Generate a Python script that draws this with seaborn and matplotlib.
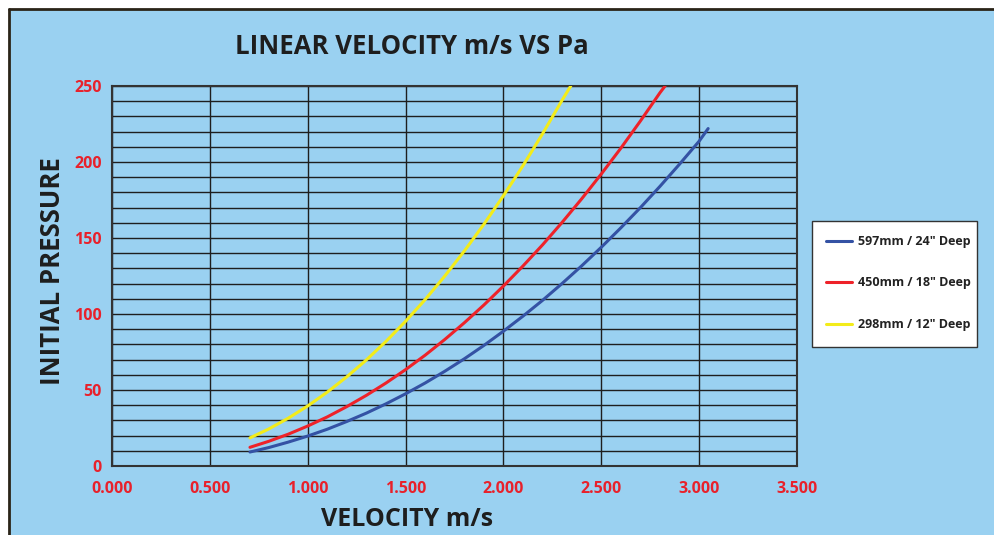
import pandas as pd
import matplotlib
matplotlib.use("Agg")
import matplotlib.pyplot as plt
import seaborn as sns
from matplotlib.lines import Line2D
from matplotlib.patches import Rectangle

# values
series_names = ['597mm / 24" Deep', '450mm / 18" Deep', '298mm / 12" Deep']

vel_597 = [0.705, 0.8, 0.9, 1.0, 1.1, 1.2, 1.3, 1.4, 1.5, 1.6, 1.7, 1.8, 1.9, 2.0,
           2.1, 2.2, 2.3, 2.4, 2.5, 2.6, 2.7, 2.8, 2.9, 3.0, 3.046]
pa_597 = [9.2, 12.1, 15.7, 19.7, 24.2, 29.3, 34.8, 40.9, 47.5, 54.6, 62.3, 70.5, 79.3, 88.7,
          98.6, 109.0, 120.1, 131.7, 143.9, 156.7, 170.0, 184.0, 198.6, 213.7, 222.0]

vel_450 = [0.705, 0.8, 0.9, 1.0, 1.1, 1.2, 1.3, 1.4, 1.5, 1.6, 1.7, 1.8, 1.9, 2.0,
           2.1, 2.2, 2.3, 2.4, 2.5, 2.6, 2.7, 2.8, 2.826]
pa_450 = [12.3, 16.2, 20.9, 26.3, 32.3, 39.1, 46.5, 54.6, 63.4, 72.9, 83.2, 94.2, 105.9, 118.4,
          131.6, 145.5, 160.3, 175.8, 192.1, 209.1, 227.0, 245.6, 250.0]

vel_298 = [0.705, 0.8, 0.9, 1.0, 1.1, 1.2, 1.3, 1.4, 1.5, 1.6, 1.7, 1.8, 1.9, 2.0,
           2.1, 2.2, 2.3, 2.344]
pa_298 = [18.5, 24.3, 31.4, 39.5, 48.6, 58.7, 69.8, 82.0, 95.2, 109.5, 124.9, 141.4, 159.0, 177.8,
          197.6, 218.6, 240.7, 250.0]

x_ticks = [0.0, 0.5, 1.0, 1.5, 2.0, 2.5, 3.0, 3.5]
y_ticks = [0, 50, 100, 150, 200, 250]

colors = ['#3452a4', '#ee2229', '#f3ec1a']
bg = '#9ad1f1'
red_txt = '#e8212b'

rows = []
for name, xs, ys in zip(series_names, [vel_597, vel_450, vel_298], [pa_597, pa_450, pa_298]):
    for x, y in zip(xs, ys):
        rows.append({'Velocity': x, 'Pressure': y, 'Series': name})
df = pd.DataFrame(rows)

sns.set_style("white")
plt.rcParams['font.family'] = ['Open Sans', 'DejaVu Sans']

fig = plt.figure(figsize=(9.95, 5.35), dpi=100, facecolor='white')

# blue panel with dark top/left border
fig.add_artist(Rectangle((9 / 995, 0), 1, 1 - 10 / 535, transform=fig.transFigure,
                         facecolor=bg, edgecolor='none', zorder=0))
fig.add_artist(Line2D([9 / 995, 1], [1 - 9 / 535, 1 - 9 / 535], transform=fig.transFigure,
                      color='#2a2418', lw=2))
fig.add_artist(Line2D([9 / 995, 9 / 995], [0, 1 - 9 / 535], transform=fig.transFigure,
                      color='#2a2418', lw=2))

ax = fig.add_axes([112 / 995, 1 - 466 / 535, (797 - 112) / 995, (466 - 86) / 535])
ax.set_facecolor(bg)

sns.lineplot(data=df, x='Velocity', y='Pressure', hue='Series', hue_order=series_names,
             palette=colors, sort=False, estimator=None, linewidth=2.2, ax=ax, zorder=3)

ax.set_xlim(0, 3.5)
ax.set_ylim(0, 250)
ax.set_xticks(x_ticks)
ax.set_xticklabels([f"{t:.3f}" for t in x_ticks])
ax.set_yticks(y_ticks)
ax.set_yticks(range(0, 251, 10), minor=True)

ax.grid(True, which='major', axis='x', color='#1e1e1e', lw=1)
ax.grid(True, which='both', axis='y', color='#1e1e1e', lw=1)
ax.set_axisbelow(True)
for s in ax.spines.values():
    s.set_color('#333333')
    s.set_linewidth(1.5)

ax.tick_params(axis='both', which='major', direction='out', length=5, width=1,
               color='#444444', labelcolor=red_txt, labelsize=11.5)
ax.tick_params(axis='x', which='major', pad=6)
ax.tick_params(axis='y', which='major', pad=2.5)
ax.tick_params(axis='y', which='minor', length=0)
for lbl in ax.get_xticklabels() + ax.get_yticklabels():
    lbl.set_fontweight('bold')

ax.set_xlabel('VELOCITY m/s', fontsize=18, fontweight='bold', color='#1e1e1e')
ax.set_ylabel('INITIAL PRESSURE', fontsize=18.5, fontweight='bold', color='#1e1e1e')
ax.xaxis.set_label_coords((407 - 112) / 685, (466 - 520) / 380)
ax.yaxis.set_label_coords((53 - 112) / 685, (466 - 271) / 380)
ax.xaxis.label.set_va('center')
ax.yaxis.label.set_va('center')

fig.text(412 / 995, 1 - 47 / 535, 'LINEAR VELOCITY m/s VS Pa', ha='center', va='center',
         fontsize=18.5, fontweight='bold', color='#1e1e1e',
         family=['Liberation Sans Narrow', 'Open Sans', 'DejaVu Sans'])

# legend box drawn separately so its padding can match the reference
ax.add_patch(Rectangle((812 / 995, 1 - 347 / 535), 165 / 995, 126 / 535,
                       transform=fig.transFigure, clip_on=False, facecolor='white',
                       edgecolor='#333333', lw=1, zorder=4))
leg = ax.legend(loc='upper left', bbox_to_anchor=(826 / 995, 1 - 235 / 535),
                bbox_transform=fig.transFigure, borderaxespad=0, borderpad=0,
                frameon=False, prop={'size': 9, 'weight': 'bold'}, labelspacing=2.28,
                handlelength=2.1, handletextpad=0.5, title=None)
leg.set_zorder(5)
for t in leg.get_texts():
    t.set_color('#222222')

fig.savefig('out.png', dpi=100, facecolor=fig.get_facecolor())
